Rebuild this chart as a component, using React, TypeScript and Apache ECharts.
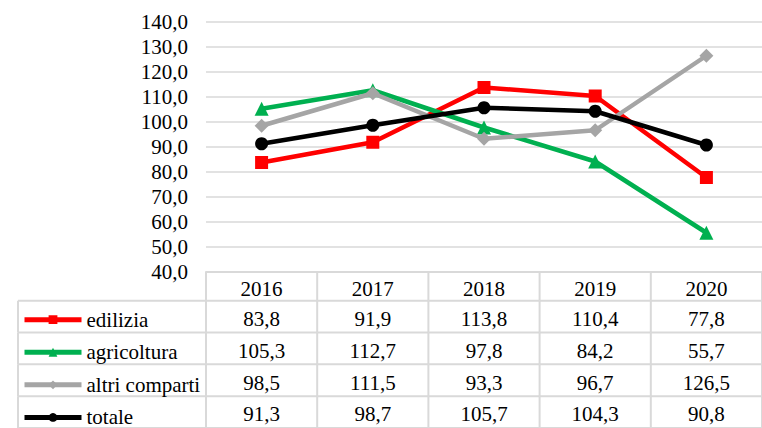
import React, { useEffect, useRef } from "react";
import * as echarts from "echarts";

// ---- data ----
const YEARS = ["2016", "2017", "2018", "2019", "2020"];
const SERIES_NAMES = ["edilizia", "agricoltura", "altri comparti", "totale"];
const EDILIZIA = [83.8, 91.9, 113.8, 110.4, 77.8];
const AGRICOLTURA = [105.3, 112.7, 97.8, 84.2, 55.7];
const ALTRI_COMPARTI = [98.5, 111.5, 93.3, 96.7, 126.5];
const TOTALE = [91.3, 98.7, 105.7, 104.3, 90.8];
const Y_MIN = 40;
const Y_MAX = 140;
const Y_INTERVAL = 10;

// ---- styles / layout ----
const COLORS = ["#FF0000", "#00B050", "#A5A5A5", "#000000"];
const SYMBOLS = ["rect", "triangle", "diamond", "circle"];
const SYMBOL_SIZES = [13, 14, 14, 13];
const FONT = "Liberation Serif";
const FONT_SIZE = 21;
const GRID_LINE = "#D9D9D9";
const PLOT_LEFT = 206;
const PLOT_TOP = 22;
const PLOT_W = 570;
const PLOT_H = 250;
const ROW_H = 32.6;
const HEADER_UNITS = 0.9; // header row height in row units
const TABLE_UNITS = HEADER_UNITS + 4;
const LEG_LEFT = 18;

const fmt = (v: number) => v.toFixed(1).replace(".", ",");

export default function App() {
  const ref = useRef<HTMLDivElement>(null);

  useEffect(() => {
    if (!ref.current) return;
    const chart = echarts.init(ref.current, undefined, { renderer: "svg" });
    const values = [EDILIZIA, AGRICOLTURA, ALTRI_COMPARTI, TOTALE];

    const rowSpan = (r: number): [number, number] =>
      r === 0 ? [0, HEADER_UNITS] : [HEADER_UNITS + r - 1, HEADER_UNITS + r];

    const cellData: number[][] = [];
    for (let r = 0; r <= values.length; r++) {
      for (let c = 0; c < YEARS.length; c++) cellData.push([c, r]);
    }

    const lineStyle = { stroke: GRID_LINE, lineWidth: 2 };

    const renderItem = (params: any, api: any) => {
      const c = api.value(0);
      const r = api.value(1);
      const [t0, t1] = rowSpan(r);
      const w = api.size([1, 0])[0];
      const cx = api.coord([c, 0])[0];
      const top = api.coord([c, t0])[1];
      const bottom = api.coord([c, t1])[1];
      const left = cx - w / 2;
      const right = cx + w / 2;
      const text = r === 0 ? YEARS[c] : fmt(values[r - 1][c]);
      const children: any[] = [
        {
          type: "text",
          style: {
            x: cx,
            y: (top + bottom) / 2 + (r === 0 ? 3 : 2.3),
            text,
            align: "center",
            verticalAlign: "middle",
            fill: "#000",
            fontFamily: FONT,
            fontSize: FONT_SIZE,
          },
        },
        { type: "line", shape: { x1: left, y1: top, x2: left, y2: bottom }, style: lineStyle },
        { type: "line", shape: { x1: left, y1: bottom, x2: right, y2: bottom }, style: lineStyle },
      ];
      if (c === YEARS.length - 1) {
        children.push({ type: "line", shape: { x1: right, y1: top, x2: right, y2: bottom }, style: lineStyle });
      }
      if (c === 0 && r >= 1) {
        children.push({ type: "line", shape: { x1: LEG_LEFT, y1: bottom, x2: left, y2: bottom }, style: lineStyle });
        children.push({ type: "line", shape: { x1: LEG_LEFT, y1: top, x2: LEG_LEFT, y2: bottom }, style: lineStyle });
        if (r === 1) {
          children.push({ type: "line", shape: { x1: LEG_LEFT, y1: top, x2: left, y2: top }, style: lineStyle });
        }
      }
      return { type: "group", children };
    };

    const firstRowCenter = PLOT_TOP + PLOT_H + (HEADER_UNITS + 0.5) * ROW_H;

    chart.setOption({
      animation: false,
      backgroundColor: "#fff",
      textStyle: { fontFamily: FONT },
      legend: {
        orient: "vertical",
        left: LEG_LEFT + 4,
        top: firstRowCenter - FONT_SIZE / 2 + 2,
        padding: 0,
        itemWidth: 57,
        itemHeight: 11,
        itemGap: ROW_H - FONT_SIZE,
        data: SERIES_NAMES,
        textStyle: { fontFamily: FONT, fontSize: FONT_SIZE, color: "#000" },
        lineStyle: { width: 5 },
        selectedMode: false,
      },
      grid: [
        { left: PLOT_LEFT, top: PLOT_TOP, width: PLOT_W, height: PLOT_H, containLabel: false },
        { left: PLOT_LEFT, top: PLOT_TOP + PLOT_H, width: PLOT_W, height: TABLE_UNITS * ROW_H, containLabel: false },
      ],
      xAxis: [
        {
          type: "category",
          gridIndex: 0,
          data: YEARS,
          boundaryGap: true,
          axisLabel: { show: false },
          axisTick: { show: false },
          axisLine: { show: true, lineStyle: { color: GRID_LINE, width: 2 } },
          splitLine: { show: false },
        },
        { type: "category", gridIndex: 1, data: YEARS, boundaryGap: true, show: false },
      ],
      yAxis: [
        {
          type: "value",
          gridIndex: 0,
          min: Y_MIN,
          max: Y_MAX,
          interval: Y_INTERVAL,
          axisLine: { show: false },
          axisTick: { show: false },
          axisLabel: {
            formatter: (v: number) => fmt(v),
            fontFamily: FONT,
            fontSize: FONT_SIZE,
            color: "#000",
            margin: 18,
          },
          splitLine: { show: true, lineStyle: { color: GRID_LINE, width: 1.5 } },
        },
        { type: "value", gridIndex: 1, min: 0, max: TABLE_UNITS, inverse: true, show: false },
      ],
      series: [
        ...SERIES_NAMES.map((name, i) => ({
          name,
          type: "line",
          xAxisIndex: 0,
          yAxisIndex: 0,
          data: values[i],
          symbol: SYMBOLS[i],
          symbolSize: SYMBOL_SIZES[i],
          showSymbol: true,
          color: COLORS[i],
          itemStyle: { color: COLORS[i] },
          lineStyle: { color: COLORS[i], width: 4.5 },
          z: 3 + i,
        })),
        {
          name: "table",
          type: "custom",
          xAxisIndex: 1,
          yAxisIndex: 1,
          clip: false,
          silent: true,
          data: cellData,
          renderItem,
        },
      ],
    });
    return () => chart.dispose();
  }, []);

  return (
    <div
      ref={ref}
      style={{ position: "absolute", left: 0, top: 0, width: 762, height: 428, background: "#fff" }}
    />
  );
}
